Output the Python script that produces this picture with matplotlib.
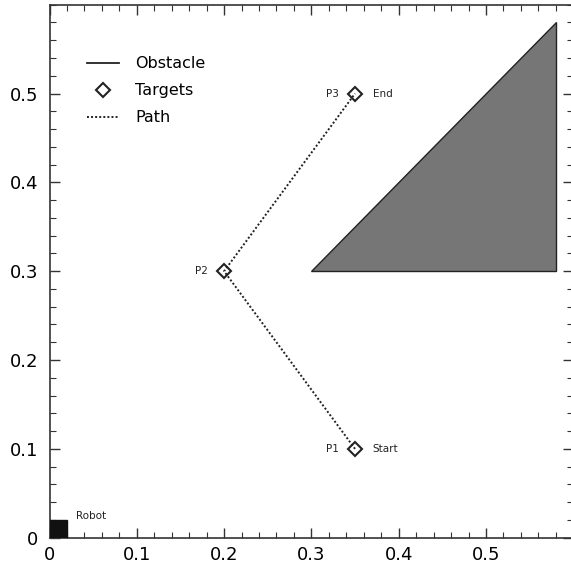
import matplotlib
matplotlib.use("Agg")
import matplotlib.pyplot as plt
from matplotlib.ticker import MultipleLocator
from matplotlib.patches import Polygon, Rectangle

# Data
target_names = ["P1", "P2", "P3"]
target_x = [0.35, 0.20, 0.35]
target_y = [0.10, 0.30, 0.50]
target_tags = ["Start", "", "End"]
obstacle_x = [0.30, 0.58, 0.58]
obstacle_y = [0.30, 0.30, 0.58]
robot_xy = (0.0, 0.0)
robot_size = 0.02
xticks = [0, 0.1, 0.2, 0.3, 0.4, 0.5]
yticks = [0, 0.1, 0.2, 0.3, 0.4, 0.5]
tick_labels = ["0", "0.1", "0.2", "0.3", "0.4", "0.5"]

fig = plt.figure(figsize=(5.71, 5.71), dpi=100)
ax = fig.add_axes([0.0867, 0.0583, 0.9173, 0.9335])
ax.set_xlim(0, 0.6)
ax.set_ylim(0, 0.6)

# obstacle
tri = Polygon(list(zip(obstacle_x, obstacle_y)), closed=True,
              facecolor="#767676", edgecolor="#222222", linewidth=1.0)
ax.add_patch(tri)

# path
ax.plot(target_x, target_y, linestyle=(0, (1, 1.1)), color="#222222", linewidth=1.4)
# targets
ax.plot(target_x, target_y, linestyle="none", marker="D", markersize=7.5,
        markerfacecolor="none", markeredgecolor="#222222", markeredgewidth=1.5)

for x, y, n, t in zip(target_x, target_y, target_names, target_tags):
    ax.text(x - 0.019, y, n, fontsize=7.5, ha="right", va="center", color="#222222")
    if t:
        ax.text(x + 0.02, y, t, fontsize=7.5, ha="left", va="center", color="#222222")

# robot
ax.add_patch(Rectangle(robot_xy, robot_size, robot_size, facecolor="#111111",
                       edgecolor="#111111", zorder=3))
ax.text(0.03, 0.024, "Robot", fontsize=7.5, ha="left", va="center", color="#222222")

# legend handles
h1, = ax.plot([], [], color="#222222", linewidth=1.3, label="Obstacle")
h2, = ax.plot([], [], linestyle="none", marker="D", markersize=7.5,
              markerfacecolor="none", markeredgecolor="#222222",
              markeredgewidth=1.5, label="Targets")
h3, = ax.plot([], [], linestyle=(0, (1, 1.1)), color="#222222", linewidth=1.4, label="Path")
ax.legend(handles=[h1, h2, h3], loc="upper left", frameon=False, fontsize=11.5,
          bbox_to_anchor=(0.045, 0.93), handlelength=2.0, handletextpad=1.0,
          labelspacing=0.75)

ax.set_xticks(xticks)
ax.set_xticklabels(tick_labels)
ax.set_yticks(yticks)
ax.set_yticklabels(tick_labels)
ax.xaxis.set_minor_locator(MultipleLocator(0.02))
ax.yaxis.set_minor_locator(MultipleLocator(0.02))
ax.tick_params(which="both", direction="in", top=True, right=True,
               color="#333333", labelsize=13)
ax.tick_params(which="major", length=7, width=1)
ax.tick_params(which="minor", length=4, width=0.8)
ax.tick_params(axis="y", pad=8)
ax.tick_params(axis="x", pad=6)
for s in ax.spines.values():
    s.set_color("#333333")
    s.set_linewidth(1.2)

fig.savefig("out.png", dpi=100)
